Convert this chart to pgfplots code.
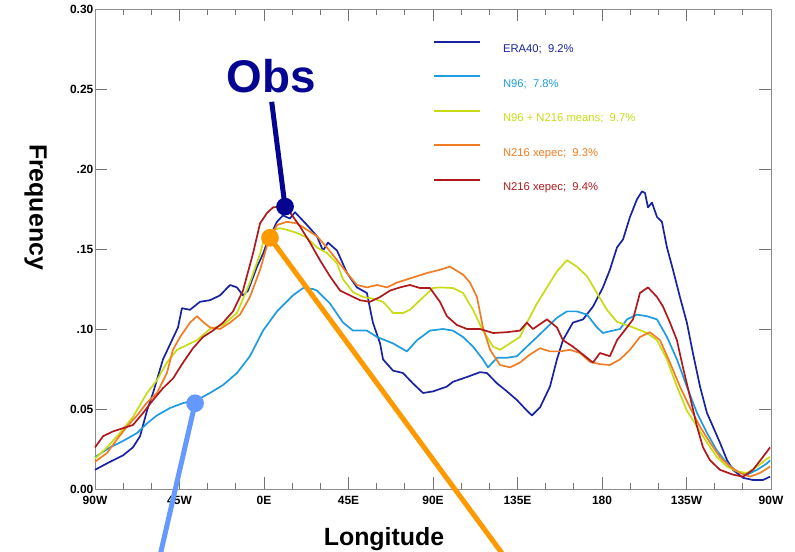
\documentclass[border=0pt]{standalone}
\usepackage{pgfplots}
\pgfplotsset{compat=1.18}
\usepackage{fontspec}
\setmainfont{Liberation Sans}
\definecolor{era}{RGB}{25,35,160}
\definecolor{nns}{RGB}{30,155,225}
\definecolor{ymean}{RGB}{200,220,20}
\definecolor{xorg}{RGB}{240,125,35}
\definecolor{xred}{RGB}{175,25,30}
\definecolor{obsc}{RGB}{5,5,145}
\definecolor{annor}{RGB}{255,153,0}
\definecolor{annbl}{RGB}{102,153,255}
\begin{document}
\begin{tikzpicture}
\begin{axis}[
  scale only axis, width=676bp, height=480bp,
  xmin=-90, xmax=270, ymin=0, ymax=0.30,
  clip=false,
  xtick={-90,-45,0,45,90,135,180,225,270},
  xticklabels={90W,45W,0E,45E,90E,135E,180,135W,90W},
  minor x tick num=2,
  ytick={0,0.05,0.10,0.15,0.20,0.25,0.30},
  yticklabels={0.00,0.05,.10,.15,.20,0.25,0.30},
  tick align=inside,
  major tick length=12bp, minor tick length=6bp,
  axis line style={black!45, line width=0.8bp},
  every tick/.style={black!55, line width=0.8bp},
  ticklabel style={font=\fontsize{12}{14}\selectfont\bfseries},
  xticklabel style={inner sep=2bp, yshift=-5bp},
  yticklabel style={inner sep=1.5bp},
  legend cell align=left,
  legend image code/.code={\draw[#1, line width=2bp] (0bp,7.5bp) -- (46bp,7.5bp);},
  legend style={draw=none, fill=none, at={(0.5,0.9333)}, anchor=north west,
    inner sep=0pt, outer sep=0pt, font=\fontsize{11.3}{13}\selectfont,
    row sep=20.2bp, nodes={inner sep=0pt, text height=9bp, text depth=2.5bp},
    /tikz/every odd column/.append style={column sep=22bp}},
  every axis plot/.append style={line width=1.7bp, line join=round},
]
% ERA40
\addplot[era] coordinates {(-90,0.012)(-82.0,0.017)(-75.1,0.021)(-69.8,0.026)(-66.0,0.033)(-62.3,0.049)(-59.1,0.060)(-53.8,0.081)(-49.0,0.093)(-45.8,0.101)(-43.7,0.113)(-39.4,0.112)(-34.1,0.117)(-28.8,0.118)(-23.4,0.121)(-18.1,0.1275)(-14.4,0.126)(-11.2,0.121)(-8.5,0.124)(-3.7,0.139)(-0.5,0.147)(1.6,0.154)(6.9,0.167)(10.1,0.171)(13.8,0.169)(16.5,0.173)(22.9,0.165)(28.2,0.158)(31.4,0.149)(34.1,0.154)(38.9,0.149)(44.2,0.135)(49.5,0.126)(54.8,0.1225)(58.0,0.104)(61.8,0.091)(63.4,0.081)(68.7,0.074)(74.0,0.0725)(79.3,0.066)(84.7,0.060)(90.0,0.061)(97.4,0.064)(100.6,0.067)(108.1,0.070)(115.0,0.073)(118.7,0.0725)(124.1,0.066)(129.4,0.061)(134.7,0.0556)(140.0,0.049)(142.7,0.046)(147.0,0.051)(152.3,0.064)(156.0,0.081)(159.2,0.093)(164.5,0.104)(169.9,0.106)(175.2,0.114)(180.5,0.126)(184.2,0.137)(188.0,0.151)(191.2,0.156)(194.9,0.170)(198.6,0.181)(201.3,0.186)(202.9,0.185)(204.5,0.176)(206.6,0.179)(209.3,0.170)(211.9,0.167)(214.6,0.151)(217.8,0.137)(221.5,0.120)(225.2,0.104)(228.4,0.085)(232.2,0.064)(235.9,0.0475)(239.1,0.039)(242.8,0.029)(246.6,0.018)(249.7,0.012)(255.1,0.007)(260.4,0.0056)(265.7,0.0056)(269.5,0.0077)};
\addlegendentry{\textcolor{era}{ERA40;\ \ 9.2\%}}
% N96
\addplot[nns] coordinates {(-90,0.020)(-82.0,0.026)(-75.1,0.030)(-67.6,0.035)(-62.3,0.041)(-57.0,0.046)(-50.1,0.0506)(-43.1,0.0537)(-35.7,0.0556)(-28.8,0.060)(-21.8,0.065)(-14.4,0.0725)(-7.5,0.083)(-0.5,0.099)(6.9,0.111)(15.4,0.121)(20.8,0.1256)(26.1,0.125)(28.2,0.124)(35.1,0.116)(42.1,0.104)(47.4,0.099)(54.8,0.099)(60.2,0.095)(68.7,0.091)(76.1,0.086)(81.5,0.093)(88.4,0.099)(95.3,0.100)(100.6,0.099)(106.0,0.095)(111.3,0.089)(116.6,0.081)(119.3,0.076)(124.1,0.082)(129.4,0.082)(134.7,0.083)(140.0,0.089)(145.4,0.095)(150.7,0.101)(156.0,0.107)(161.3,0.111)(166.6,0.111)(172.0,0.109)(177.3,0.101)(180.5,0.0975)(185.8,0.099)(189.6,0.100)(193.3,0.106)(198.6,0.109)(203.9,0.108)(209.3,0.106)(214.6,0.095)(219.9,0.081)(225.2,0.064)(230.6,0.0475)(235.9,0.035)(241.2,0.024)(246.6,0.016)(251.9,0.011)(257.2,0.009)(262.6,0.012)(267.9,0.016)(269.5,0.018)};
\addlegendentry{\textcolor{nns}{N96;\ \ 7.8\%}}
% N96 + N216 means
\addplot[ymean] coordinates {(-90,0.019)(-83.6,0.026)(-76.7,0.035)(-69.8,0.045)(-62.3,0.060)(-57.0,0.068)(-51.7,0.079)(-46.3,0.087)(-41.0,0.090)(-35.7,0.093)(-28.8,0.100)(-21.8,0.1025)(-14.4,0.110)(-7.5,0.129)(-2.1,0.147)(-0.5,0.154)(4.8,0.162)(8.5,0.163)(12.2,0.162)(17.6,0.160)(22.9,0.157)(28.2,0.151)(33.5,0.1475)(38.9,0.141)(42.1,0.131)(47.4,0.123)(52.7,0.120)(58.0,0.119)(63.4,0.117)(68.7,0.110)(74.0,0.110)(77.7,0.112)(83.1,0.118)(90.0,0.1256)(93.7,0.126)(100.6,0.1256)(106.0,0.1225)(111.3,0.112)(116.6,0.099)(122.0,0.089)(125.7,0.087)(131.0,0.091)(136.3,0.095)(140.0,0.104)(145.4,0.116)(150.7,0.126)(156.0,0.136)(161.3,0.143)(166.6,0.139)(172.0,0.133)(177.3,0.1225)(182.6,0.112)(188.0,0.1045)(196.5,0.101)(203.9,0.0975)(209.3,0.093)(214.6,0.081)(219.9,0.064)(225.2,0.049)(230.6,0.039)(235.9,0.029)(241.2,0.020)(246.6,0.014)(251.9,0.011)(257.2,0.010)(262.6,0.014)(267.9,0.019)(269.5,0.020)};
\addlegendentry{\textcolor{ymean}{N96 + N216 means;\ \ 9.7\%}}
% N216 xepec 9.3
\addplot[xorg] coordinates {(-90,0.017)(-83.6,0.0225)(-78.3,0.031)(-73.0,0.039)(-67.6,0.046)(-62.3,0.054)(-57.0,0.060)(-51.7,0.0725)(-48.5,0.087)(-44.7,0.095)(-39.4,0.104)(-35.7,0.108)(-32.5,0.1045)(-28.8,0.101)(-23.4,0.100)(-18.1,0.104)(-12.8,0.109)(-7.5,0.120)(-2.1,0.137)(1.6,0.152)(6.9,0.165)(12.2,0.167)(17.6,0.166)(22.9,0.162)(28.2,0.158)(33.5,0.151)(38.9,0.143)(44.2,0.135)(49.5,0.1275)(54.8,0.126)(60.2,0.1275)(65.5,0.126)(70.8,0.129)(76.1,0.131)(81.5,0.133)(86.8,0.135)(93.7,0.137)(99.0,0.139)(106.0,0.134)(109.7,0.129)(113.4,0.120)(116.6,0.101)(120.4,0.087)(125.7,0.0775)(131.0,0.076)(136.3,0.079)(141.6,0.084)(147.0,0.088)(152.3,0.086)(157.6,0.086)(162.9,0.087)(168.3,0.085)(173.6,0.0795)(178.9,0.078)(184.2,0.0775)(189.6,0.081)(194.9,0.087)(200.2,0.095)(205.5,0.098)(210.9,0.093)(216.2,0.079)(221.5,0.064)(226.8,0.051)(232.2,0.039)(237.5,0.029)(242.8,0.020)(248.2,0.014)(253.5,0.010)(258.8,0.0077)(264.1,0.010)(269.5,0.014)};
\addlegendentry{\textcolor{xorg}{N216 xepec;\ \ 9.3\%}}
% N216 xepec 9.4
\addplot[xred] coordinates {(-90,0.026)(-85.7,0.033)(-80.4,0.036)(-75.1,0.038)(-69.8,0.040)(-64.4,0.0475)(-59.1,0.0556)(-53.8,0.063)(-48.5,0.069)(-43.1,0.079)(-37.8,0.088)(-32.5,0.095)(-27.2,0.099)(-21.8,0.104)(-16.5,0.111)(-11.2,0.124)(-5.9,0.147)(-2.1,0.166)(1.6,0.1725)(4.8,0.176)(8.5,0.1765)(13.8,0.173)(19.2,0.164)(24.5,0.154)(29.8,0.143)(35.1,0.133)(40.5,0.124)(45.8,0.121)(51.1,0.118)(56.4,0.117)(61.8,0.120)(67.1,0.124)(72.4,0.126)(77.7,0.1275)(83.1,0.1256)(88.4,0.1256)(93.7,0.117)(97.4,0.108)(102.7,0.1025)(108.1,0.100)(115.0,0.100)(122.0,0.0975)(129.4,0.098)(136.3,0.099)(140.0,0.104)(143.2,0.100)(150.7,0.106)(156.0,0.101)(159.2,0.093)(164.5,0.089)(169.9,0.084)(175.2,0.079)(178.9,0.085)(184.2,0.083)(188.0,0.093)(193.3,0.101)(196.5,0.106)(200.2,0.1225)(204.5,0.126)(209.3,0.120)(212.5,0.114)(216.2,0.104)(219.9,0.093)(223.1,0.076)(226.8,0.058)(230.6,0.039)(233.8,0.026)(237.5,0.018)(242.8,0.012)(249.7,0.009)(255.1,0.0077)(260.4,0.012)(265.7,0.020)(269.5,0.026)};
\addlegendentry{\textcolor{xred}{N216 xepec;\ \ 9.4\%}}
% annotations
\addplot[forget plot, obsc, line width=5bp] coordinates {(4.1,0.242)(11.2,0.1765)};
\addplot[forget plot, obsc, only marks, mark=*, mark size=8bp, mark options={fill=obsc, draw=obsc}] coordinates {(11.2,0.1765)};
\addplot[forget plot, annor, line width=5bp] coordinates {(3.2,0.157)(129.4,-0.0444)};
\addplot[forget plot, annor, only marks, mark=*, mark size=8bp, mark options={fill=annor, draw=annor}] coordinates {(3.2,0.157)};
\addplot[forget plot, annbl, line width=5bp] coordinates {(-36.7,0.0536)(-55.9,-0.0444)};
\addplot[forget plot, annbl, only marks, mark=*, mark size=8bp, mark options={fill=annbl, draw=annbl}] coordinates {(-36.7,0.0536)};
\node[anchor=base, font=\fontsize{46}{50}\selectfont\bfseries, text=obsc, inner sep=0pt] at (axis cs:3.7,0.248) {Obs};
\node[anchor=base, font=\fontsize{25}{28}\selectfont\bfseries, inner sep=0pt] at (rel axis cs:0.4275,-0.1167) {Longitude};
\node[rotate=-90, anchor=center, font=\fontsize{25}{28}\selectfont\bfseries, inner sep=0pt] at (rel axis cs:-0.0880,0.5875) {Frequency};
\end{axis}
\pgfresetboundingbox
\path (current axis.south west) ++(-95bp,-63bp) coordinate (BL);
\path (current axis.north east) ++(24bp,9bp) coordinate (TR);
\path[use as bounding box] (BL) rectangle (TR);
\end{tikzpicture}
\end{document}
